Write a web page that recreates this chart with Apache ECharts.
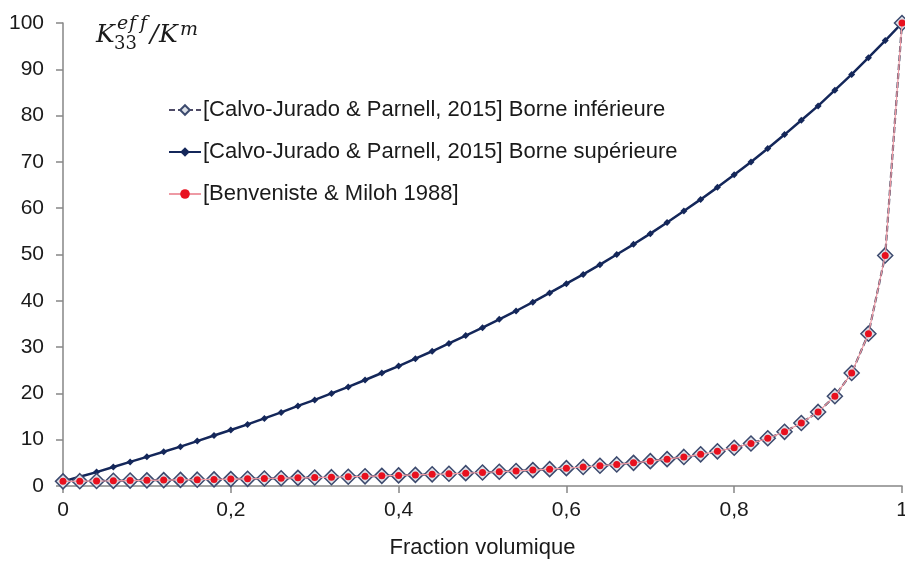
<!DOCTYPE html>
<html>
<head>
<meta charset="utf-8">
<script src="https://cdn.jsdelivr.net/npm/echarts@6/dist/echarts.min.js"></script>
<style>
  html, body { margin: 0; padding: 0; background: #fff; }
  #chart { width: 905px; height: 565px; }
</style>
</head>
<body>
<div id="chart"></div>
<script>
var fractions = [0, 0.02, 0.04, 0.06, 0.08, 0.1, 0.12, 0.14, 0.16, 0.18, 0.2, 0.22, 0.24, 0.26, 0.28, 0.3,
  0.32, 0.34, 0.36, 0.38, 0.4, 0.42, 0.44, 0.46, 0.48, 0.5, 0.52, 0.54, 0.56, 0.58, 0.6, 0.62, 0.64, 0.66,
  0.68, 0.7, 0.72, 0.74, 0.76, 0.78, 0.8, 0.82, 0.84, 0.86, 0.88, 0.9, 0.92, 0.94, 0.96, 0.98, 1];

// [Calvo-Jurado & Parnell, 2015] Borne inférieure
var borneInf = [1, 1.04, 1.08, 1.12, 1.17, 1.22, 1.27, 1.32, 1.37, 1.43, 1.49, 1.55, 1.62, 1.68, 1.76, 1.83,
  1.91, 2.0, 2.09, 2.19, 2.29, 2.4, 2.52, 2.64, 2.78, 2.92, 3.08, 3.25, 3.43, 3.64, 3.86, 4.1, 4.37, 4.66,
  5.0, 5.37, 5.8, 6.28, 6.84, 7.49, 8.27, 9.19, 10.3, 11.7, 13.6, 16.0, 19.4, 24.4, 32.9, 49.8, 100];

// [Calvo-Jurado & Parnell, 2015] Borne supérieure
var borneSup = [1, 2.0, 3.0, 4.1, 5.2, 6.3, 7.4, 8.5, 9.7, 10.9, 12.1, 13.3, 14.6, 15.9, 17.3, 18.6,
  20.0, 21.4, 22.9, 24.4, 25.9, 27.5, 29.1, 30.8, 32.5, 34.2, 36.0, 37.8, 39.7, 41.7, 43.7, 45.7, 47.8, 50.0,
  52.2, 54.5, 56.9, 59.4, 61.9, 64.5, 67.2, 70.0, 72.9, 75.9, 79.0, 82.1, 85.5, 88.9, 92.5, 96.2, 100];

// [Benveniste & Miloh 1988]
var benveniste = [1, 1.04, 1.08, 1.12, 1.17, 1.22, 1.27, 1.32, 1.37, 1.43, 1.49, 1.55, 1.62, 1.68, 1.76, 1.83,
  1.91, 2.0, 2.09, 2.19, 2.29, 2.4, 2.52, 2.64, 2.78, 2.92, 3.08, 3.25, 3.43, 3.64, 3.86, 4.1, 4.37, 4.66,
  5.0, 5.37, 5.8, 6.28, 6.84, 7.49, 8.27, 9.19, 10.3, 11.7, 13.6, 16.0, 19.4, 24.4, 32.9, 49.8, 100];

var xTickLabels = { 0: '0', 0.2: '0,2', 0.4: '0,4', 0.6: '0,6', 0.8: '0,8', 1: '1' };

function pairs(ys) {
  return fractions.map(function (x, i) { return [x, ys[i]]; });
}

var chart = echarts.init(document.getElementById('chart'));

var textColor = '#1a1a1a';
var axisColor = '#868686';
var serif = '"DejaVu Serif", "Liberation Serif", serif';

// y-axis title K_33^eff / K^m, piece by piece
function glyph(t, x, y, size, italic) {
  return {
    type: 'text', x: x, y: y, silent: true,
    style: {
      text: t, fill: textColor, verticalAlign: 'middle', align: 'left',
      font: (italic ? 'italic ' : '') + size + 'px ' + serif
    }
  };
}

var option = {
  animation: false,
  textStyle: { fontFamily: '"Liberation Sans", Arial, sans-serif' },
  grid: { left: 63, right: 3, top: 23, bottom: 79, outerBoundsMode: 'none', containLabel: false },
  legend: {
    orient: 'vertical',
    left: 163,
    top: 94,
    itemGap: 20,
    itemWidth: 32,
    itemHeight: 12,
    textStyle: { fontSize: 22, color: textColor, padding: [0, 0, 0, -3] },
    data: [
      '[Calvo-Jurado & Parnell, 2015] Borne inférieure',
      '[Calvo-Jurado & Parnell, 2015] Borne supérieure',
      '[Benveniste & Miloh 1988]'
    ]
  },
  xAxis: {
    type: 'value',
    min: 0,
    max: 1,
    interval: 0.2,
    name: 'Fraction volumique',
    nameLocation: 'middle',
    nameGap: 51,
    nameTextStyle: { fontSize: 22, color: textColor },
    axisLine: { lineStyle: { color: axisColor, width: 1.5 } },
    axisTick: { show: true, length: 7, lineStyle: { color: axisColor, width: 1.5 } },
    axisLabel: {
      fontSize: 21,
      color: textColor,
      margin: 14,
      formatter: function (v) { return xTickLabels[Math.round(v * 10) / 10]; }
    },
    splitLine: { show: false }
  },
  yAxis: {
    type: 'value',
    min: 0,
    max: 100,
    interval: 10,
    axisLine: { show: true, lineStyle: { color: axisColor, width: 1.5 } },
    axisTick: { show: true, length: 7, lineStyle: { color: axisColor, width: 1.5 } },
    axisLabel: { fontSize: 21, color: textColor, margin: 19 },
    splitLine: { show: false }
  },
  graphic: [
    glyph('K', 96, 35, 25, true),
    glyph('e', 117, 24, 19, true),
    glyph('f', 129, 24, 19, true),
    glyph('f', 140, 24, 19, true),
    glyph('33', 114, 44, 18, false),
    glyph('/', 150, 35, 25, true),
    glyph('K', 159, 35, 25, true),
    glyph('m', 180, 30, 19, true)
  ],
  series: [
    {
      name: '[Calvo-Jurado & Parnell, 2015] Borne inférieure',
      type: 'line',
      data: pairs(borneInf),
      symbol: 'diamond',
      symbolSize: 15,
      lineStyle: { color: '#4f4b66', width: 2.2, type: [6, 3] },
      itemStyle: { color: '#dde1e8', borderColor: '#3c4a6e', borderWidth: 1.5 },
      z: 3
    },
    {
      name: '[Calvo-Jurado & Parnell, 2015] Borne supérieure',
      type: 'line',
      data: pairs(borneSup),
      symbol: 'diamond',
      symbolSize: 7,
      lineStyle: { color: '#14275a', width: 2.5 },
      itemStyle: { color: '#14275a' },
      z: 2
    },
    {
      name: '[Benveniste & Miloh 1988]',
      type: 'line',
      data: pairs(benveniste),
      symbol: 'circle',
      symbolSize: 7,
      lineStyle: { color: '#ee9aa4', width: 1.2 },
      itemStyle: { color: '#e8101e' },
      z: 4
    }
  ]
};

chart.setOption(option);
</script>
</body>
</html>
